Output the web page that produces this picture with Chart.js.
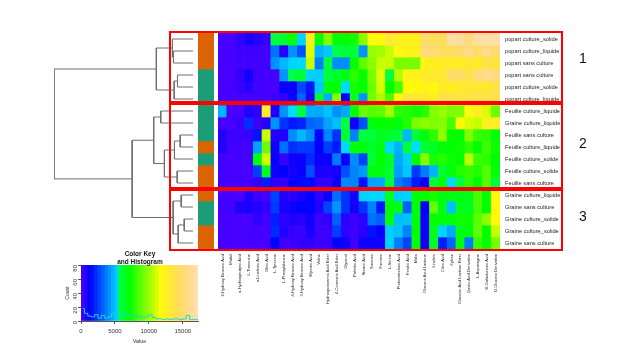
<!DOCTYPE html>
<html>
<head>
<meta charset="utf-8">
<script src="https://cdn.jsdelivr.net/npm/chart.js@4"></script>
<style>
  body { margin: 0; background: #fff; width: 640px; height: 360px; overflow: hidden; position: relative; font-family: 'Liberation Sans', Arial, sans-serif; }
  canvas { position: absolute; }
  .box { position: absolute; box-sizing: border-box; border: 2px solid #ff0000; left: 169px; width: 394px; }
  .num { position: absolute; left: 579px; font-size: 14px; color: #111; line-height: 14px; }
  #keyTitle { position: absolute; left: 90px; width: 100px; top: 250px; text-align: center; font-size: 6.5px; font-weight: bold; line-height: 8px; color: #111; }
</style>
</head>
<body>
<canvas id="dendro" style="left:54px;top:33px" width="139" height="216"></canvas>
<canvas id="strip" style="left:198px;top:33px" width="16" height="216"></canvas>
<canvas id="heat" style="left:218px;top:33px" width="422" height="320"></canvas>
<canvas id="key" style="left:65px;top:262px" width="140" height="84"></canvas>
<div class="box" style="top:31px;height:72px"></div>
<div class="box" style="top:103px;height:86px"></div>
<div class="box" style="top:189px;height:62px"></div>
<div class="num" style="top:51px">1</div>
<div class="num" style="top:136px">2</div>
<div class="num" style="top:209px">3</div>
<div id="keyTitle">Color Key<br>and Histogram</div>
<script>
const rowLabels = [
  'popart culture_solide', 'popart culture_liquide', 'popart sans culture',
  'popart sans culture', 'popart culture_solide', 'popart culture_liquide',
  'Feuille culture_liquide', 'Graine culture_liquide', 'Feuille sans culture',
  'Feuille culture_liquide', 'Feuille culture_solide', 'Feuille culture_solide',
  'Feuille sans culture', 'Graine culture_liquide', 'Graine sans culture',
  'Graine culture_solide', 'Graine culture_solide', 'Graine sans culture'
];

// tiny in the source, only the lengths are really legible
const colLabels = [
  '2-Hydroxy Benzoic Acid', 'Maltol', 'a-Hydroxybutyric Acid', 'L-Threonine', 'a-Linolenic Acid',
  'Oleic Acid', 'L-Tyrosine', 'L-Phenylalanine', '4-Hydroxy Benzoic Acid', '3-Hydroxy Benzoic Acid',
  'Myristic Acid', 'Valine', 'Hydroxycinnamic Acid Ester', '4-Coumaric Acid Ester', 'Glycerol',
  'Palmitic Acid', 'Stearic Acid', 'Succinic', 'Fumaric', 'L-Serine',
  'Protocatechuic Acid', 'Ferulic Acid', 'Malic', 'Glucaric Acid Lactone', 'Linoleic',
  'Citric Acid', 'Xylose', 'Gluconic Acid Lactone Ester', 'Quinic Acid Derivative', 'L-Asparagine',
  'D-Galacturonic Acid', 'D-Glucose Derivative'
];

const heatValues = [
  [100,100,500,1000,700,400,5900,6300,7400,5400,12600,7300,9600,7000,7200,7500,9700,11800,12000,13200,12600,12400,12400,14800,14500,14500,16800,16500,15500,16800,16900,16900],
  [100,100,300,300,300,200,3600,700,4200,3000,11400,4800,5200,5800,6100,6000,4200,10000,10200,11000,12000,12300,12400,15200,15300,14500,14400,15000,15800,14800,16000,15000],
  [100,100,200,200,200,200,4200,4900,5400,5500,11000,3800,6000,4100,4100,7300,9000,9800,10900,10900,9500,9400,9400,12200,12600,12800,12800,12700,13000,12800,13800,13500],
  [100,100,500,1100,300,200,100,4300,5900,6200,5400,5300,6000,6400,6800,8000,7300,9500,11400,6000,10500,12300,12400,12800,13000,13000,14800,14800,14000,15500,16000,15500],
  [100,100,400,700,200,100,100,1300,1300,2800,1900,5200,7000,7200,5500,7500,7300,9200,11200,7200,8500,11500,11900,12300,12000,12900,12500,13000,13200,13200,13000,13800],
  [100,100,100,100,200,100,300,500,1200,3300,900,6300,4700,9700,1400,6500,4200,9300,10400,8600,11800,13400,13200,13000,12600,14000,13800,13500,13600,13800,13800,14200],
  [4800,100,100,800,600,12700,900,4200,5600,6000,4700,4600,5100,4200,4600,7000,9200,8800,9000,10200,8000,7800,7500,7800,9700,10000,9500,9600,11900,12600,11300,9200],
  [100,100,400,2300,300,700,4200,2400,1900,2100,3300,3500,4500,5000,6000,1200,2900,7000,7200,7300,7000,7800,9500,9800,9600,9700,8500,11900,11200,10900,12500,12700],
  [800,300,300,400,1800,10900,800,800,4100,4900,4200,1500,3900,2400,6300,3900,6000,6000,6600,6400,6200,4900,6200,7000,8000,9900,7300,7100,9600,8200,8000,6900],
  [800,200,200,200,4500,9200,1100,3500,2300,2500,2500,1400,2600,1900,5500,7000,7000,6400,7000,5500,4800,6100,5600,6100,6500,7100,7100,7400,8000,7300,8300,7400],
  [200,100,100,200,7000,11100,1300,400,1100,1200,2200,1200,1300,3700,1300,4100,2700,6200,7200,6500,4600,5300,7200,9700,7600,7800,7400,7200,10700,8300,8000,7100],
  [200,100,100,100,2600,6500,1100,1500,1000,1300,2900,900,900,1000,2900,3900,4300,6900,6900,6200,4400,5200,2500,3800,4800,6300,7000,7800,8100,7800,8800,7000],
  [200,200,200,200,500,2000,600,500,1300,1600,1600,600,600,1300,4000,3900,1800,4500,4600,6200,3800,3200,1900,1300,6100,7000,5500,6000,8000,7200,8800,6100],
  [100,100,100,800,300,200,2700,800,700,1000,1500,600,1200,3500,2400,1000,5400,5500,5500,6500,5300,5400,7000,7200,7500,6900,6800,6900,6800,8500,7000,11900],
  [200,200,900,1000,700,500,2500,1000,1200,1500,1500,800,2700,4200,2400,1100,2400,3900,1900,7000,6800,3300,7100,1400,9000,6800,5000,6600,6600,8500,7200,12000],
  [100,100,100,100,500,200,2000,600,900,700,1100,300,600,3200,600,300,600,3500,3200,7000,5000,5100,7000,1200,7300,7000,7000,7500,7400,8800,9800,11900],
  [100,100,100,100,200,100,2200,800,400,400,1000,300,300,2600,600,300,700,1800,1300,5300,5100,3900,7000,1200,6600,5400,4600,6800,7000,9000,7200,10900],
  [100,100,100,100,100,100,1400,300,300,500,500,300,400,1300,1200,300,1200,1200,1200,5400,3800,2700,7000,1200,6500,2000,3300,7000,3700,8200,7100,9400]
];

// 0 = orange, 1 = green
const stripGroups = [0,0,0,1,1,1,1,1,1,0,1,0,0,0,1,1,0,0];
const stripColors = ['#dc6405', '#1b9e77'];

// hclust style: negative = leaf row (1 based), positive = earlier merge (1 based)
const dendroLeft = [-2,-1,-4,3,2,-7,-9,7,-12,8,6,-14,-16,13,12,11,5];
const dendroRight = [-3,1,-5,-6,4,-8,-10,-11,-13,9,10,-15,-17,-18,14,15,16];
const dendroHeights = [19.4,20.4,15.4,18.7,36.4,32,12.7,18.4,15.7,28.4,39,11.7,8.7,14.7,19.7,60.4,138];

const keyBins = [250,750,1250,1750,2250,2750,3250,3750,4250,4750,5250,5750,6250,6750,7250,7750,8250,8750,9250,9750,10250,10750,11250,11750,12250,12750,13250,13750,14250,14750,15250,15750,16250,16750,17250];
const histCounts = [18,11,7,6,9,4,8,4,6,11,4,9,10,9,8,8,7,7,5,6,9,5,3,3,2,3,2,3,3,2,3,8,2,2,2];
const keyMax = 17250;

// same ramp as R's topo.colors
function hsv(h, s, v) {
  const f = (n) => {
    const k = (n + h / 60) % 6;
    return Math.round(255 * (v - v * s * Math.max(0, Math.min(k, 4 - k, 1))));
  };
  return 'rgb(' + f(5) + ',' + f(3) + ',' + f(1) + ')';
}

function topoColor(value) {
  const t = Math.min(value / keyMax, 1);
  if (t < 1 / 3) return hsv(258 - 72 * (t * 3), 1, 1);
  if (t < 2 / 3) return hsv(138 - 72 * (t * 3 - 1), 1, 1);
  const f = t * 3 - 2;
  return hsv(60 - 24 * f, 1 - 0.7 * f, 1);
}

Chart.defaults.font.family = "'Liberation Sans', Arial, sans-serif";
Chart.defaults.animation = false;
Chart.defaults.responsive = false;
Chart.defaults.plugins.legend.display = false;
Chart.defaults.plugins.tooltip.enabled = false;

new Chart(document.getElementById('heat'), {
  type: 'bar',
  data: {
    labels: colLabels,
    datasets: heatValues.map((row, r) => ({
      label: rowLabels[r],
      data: row.map(() => [r, r + 1]),
      backgroundColor: row.map(topoColor),
      barPercentage: 1,
      categoryPercentage: 1,
      grouped: false
    }))
  },
  options: {
    layout: { padding: 0 },
    scales: {
      x: {
        grid: { display: false, drawTicks: false },
        border: { display: false },
        afterFit: (scale) => { scale.height = 104; scale.paddingLeft = 0; scale.paddingRight = 0; },
        ticks: { autoSkip: false, minRotation: 90, maxRotation: 90, padding: 5, color: '#222', font: { size: 4 } }
      },
      y: {
        position: 'right',
        min: 0,
        max: 18,
        reverse: true,
        grid: { display: false, drawTicks: false },
        border: { display: false },
        afterFit: (scale) => { scale.width = 140; scale.paddingTop = 0; scale.paddingBottom = 0; },
        afterBuildTicks: (scale) => { scale.ticks = rowLabels.map((_, i) => ({ value: i + 0.5 })); },
        ticks: {
          autoSkip: false,
          padding: 5,
          color: '#222',
          font: { size: 5.7 },
          callback: (value) => rowLabels[value - 0.5]
        }
      }
    }
  }
});

new Chart(document.getElementById('strip'), {
  type: 'bar',
  data: {
    labels: ['group'],
    datasets: stripGroups.map((g, r) => ({
      data: [[r, r + 1]],
      backgroundColor: stripColors[g],
      barPercentage: 1,
      categoryPercentage: 1,
      grouped: false
    }))
  },
  options: {
    layout: { padding: 0 },
    scales: {
      x: { display: false },
      y: { display: false, min: 0, max: 18, reverse: true }
    }
  }
});

// each merge gets a bracket: child, up to the merge height, across, back down to the other child
const nodeY = [];
function childPos(id) {
  if (id < 0) return { h: 0, y: -id - 0.5 };
  return { h: dendroHeights[id - 1], y: nodeY[id - 1] };
}
const dendroSets = dendroHeights.map((h, i) => {
  const a = childPos(dendroLeft[i]);
  const b = childPos(dendroRight[i]);
  nodeY[i] = (a.y + b.y) / 2;
  return {
    data: [{ x: a.h, y: a.y }, { x: h, y: a.y }, { x: h, y: b.y }, { x: b.h, y: b.y }],
    showLine: true,
    borderColor: '#6e6e6e',
    borderWidth: 1,
    pointRadius: 0,
    clip: false
  };
});

new Chart(document.getElementById('dendro'), {
  type: 'scatter',
  data: { datasets: dendroSets },
  options: {
    layout: { padding: 0 },
    scales: {
      x: { display: false, min: 0, max: 138, reverse: true },
      y: { display: false, min: 0, max: 18, reverse: true }
    }
  }
});

new Chart(document.getElementById('key'), {
  data: {
    datasets: [
      {
        type: 'line',
        data: keyBins.map((x, i) => ({ x: x, y: histCounts[i] })),
        borderColor: '#18d6dc',
        borderWidth: 1,
        pointRadius: 0,
        stepped: 'middle',
        order: 0
      },
      {
        type: 'bar',
        data: keyBins.map((x) => ({ x: x, y: 80 })),
        backgroundColor: keyBins.map(topoColor),
        barPercentage: 1,
        categoryPercentage: 1,
        order: 1
      }
    ]
  },
  options: {
    layout: { padding: { top: 3, right: 7 } },
    scales: {
      x: {
        type: 'linear',
        offset: false,
        min: 0,
        max: keyMax,
        afterBuildTicks: (scale) => { scale.ticks = [0, 5000, 10000, 15000].map((v) => ({ value: v })); },
        grid: { offset: false, drawOnChartArea: false, tickLength: 3, color: '#555' },
        border: { color: '#555' },
        afterFit: (scale) => { scale.height = 25; scale.paddingLeft = 0; scale.paddingRight = 0; },
        ticks: { color: '#333', padding: 4, font: { size: 6 }, maxRotation: 0, callback: (v) => String(v) },
        title: { display: true, text: 'Value', color: '#333', padding: 1, font: { size: 5.5 } }
      },
      y: {
        min: 0,
        max: 80,
        grid: { drawOnChartArea: false, tickLength: 3, color: '#555' },
        border: { color: '#555' },
        afterFit: (scale) => { scale.width = 16; scale.paddingTop = 0; scale.paddingBottom = 0; },
        ticks: { stepSize: 20, minRotation: 90, maxRotation: 90, color: '#333', padding: 3, font: { size: 6 } },
        title: { display: true, text: 'Count', color: '#333', padding: 0, font: { size: 5 } }
      }
    }
  }
});
</script>
</body>
</html>
